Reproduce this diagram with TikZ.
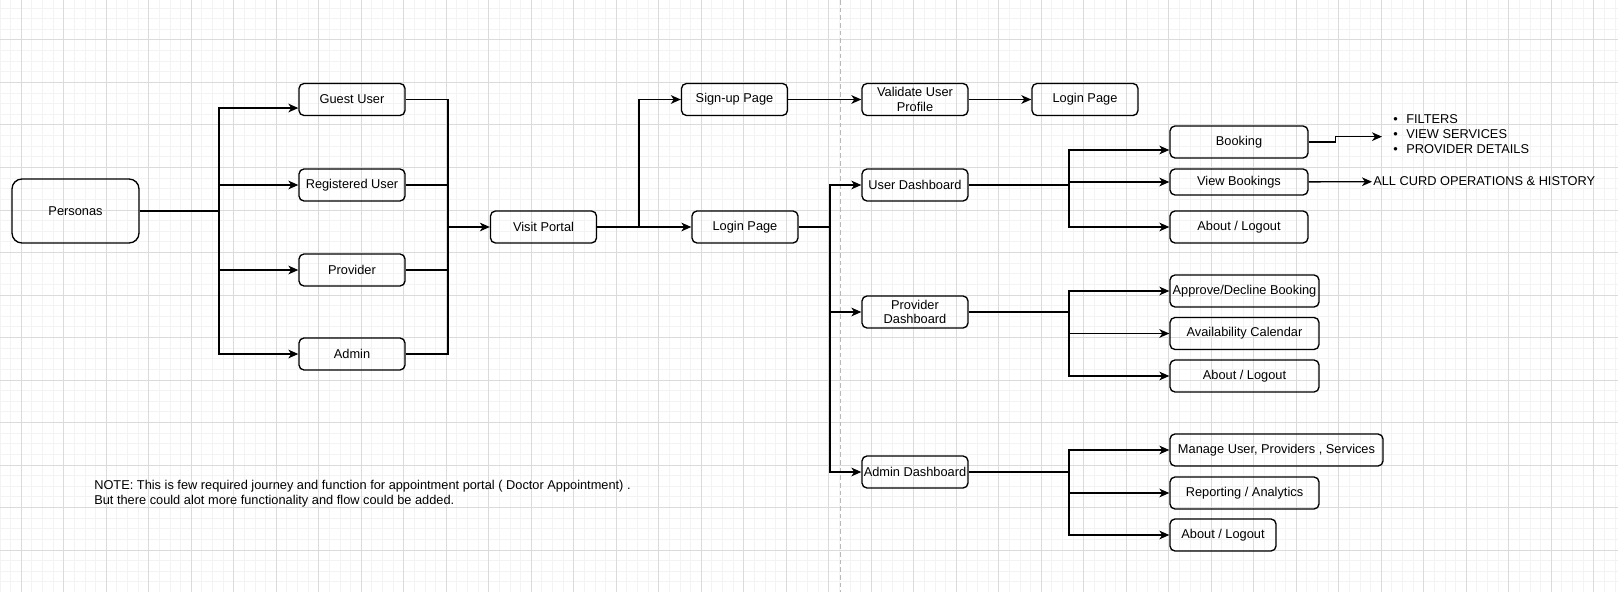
\documentclass[tikz,border=0pt]{standalone}
\usepackage{fontspec}
\setmainfont{Liberation Sans}
\usepackage{tikz}
\usetikzlibrary{arrows.meta, positioning}
\definecolor{gridminor}{RGB}{243,243,243}
\definecolor{gridmajor}{RGB}{219,219,219}
\definecolor{pagebreak}{RGB}{185,185,185}
\tikzstyle{page} = [rectangle, rounded corners=3.75pt, minimum width=79.5pt, minimum height=24pt, inner sep=1pt, text centered, align=center, draw=black, line width=1pt, font=\fontsize{9.6}{10.8}\selectfont]
\tikzstyle{menu} = [page, minimum width=103.5pt]
\tikzstyle{action} = [page, minimum width=111.75pt]
\tikzstyle{plain} = [inner sep=0pt, align=left, font=\fontsize{9.6}{11.4}\selectfont]
\tikzstyle{arrow} = [line width=1pt, -{Stealth[length=7.5pt, width=6.5pt, inset=2.2pt]}]
\tikzstyle{link} = [line width=1pt]

\begin{document}
\begin{tikzpicture}[x=0.75pt, y=-0.75pt]
	\useasboundingbox (0,0) rectangle (1618,592);
	% background grid
	\fill[white] (0,0) rectangle (1618,592);
	\foreach \i in {0,...,152} \draw[gridminor, line width=0.75pt] (\i*10.625,0) -- (\i*10.625,592);
	\foreach \j in {0,...,54} \draw[gridminor, line width=0.75pt] (0,8.125+\j*10.625) -- (1618,8.125+\j*10.625);
	\foreach \i in {0,...,37} \draw[gridmajor, line width=0.75pt] (21.25+\i*42.5,0) -- (21.25+\i*42.5,592);
	\foreach \j in {0,...,12} \draw[gridmajor, line width=0.75pt] (0,40+\j*42.5) -- (1618,40+\j*42.5);
	\draw[pagebreak, line width=0.75pt, dash pattern=on 3.5pt off 2.25pt] (840,0) -- (840,592);

	% personas
	\node (personas) [page, rounded corners=7.5pt, minimum width=95.25pt, minimum height=48pt] at (75.5,211) {Personas};
	\node (guest) [page] at (352,99.5) {Guest User};
	\node (registered) [page] at (352,185) {Registered User};
	\node (provider) [page] at (352,270) {Provider};
	\node (admin) [page] at (352,354) {Admin};

	% portal
	\node (visit) [page] at (543.5,227) {Visit Portal};
	\node (signup) [page] at (734.5,99.5) {Sign-up Page};
	\node (login) [page] at (745,227) {Login Page};
	\node (validate) [page] at (915,99.5) {Validate User\\Profile};
	\node (relogin) [page] at (1085,99.5) {Login Page};

	% dashboards
	\node (userdash) [page] at (915,185) {User Dashboard};
	\node (provdash) [page] at (915,312) {Provider\\Dashboard};
	\node (admindash) [page] at (915,472) {Admin Dashboard};

	\node (booking) [menu] at (1239,142) {Booking};
	\node (viewbook) [menu, minimum height=19.5pt] at (1239,182) {View Bookings};
	\node (userabout) [menu] at (1239,227) {About / Logout};
	\node (features) [plain, anchor=west, inner xsep=8.25pt] at (1382,134) {\textbullet\hspace{6.4pt}FILTERS\\\textbullet\hspace{6.4pt}VIEW SERVICES\\\textbullet\hspace{6.4pt}PROVIDER DETAILS};
	\node (curd) [plain, anchor=west, inner xsep=0.75pt] at (1372,181.5) {ALL CURD OPERATIONS \& HISTORY};

	\node (approve) [action] at (1244.5,291) {Approve/Decline Booking};
	\node (calendar) [action] at (1244.5,333.5) {Availability Calendar};
	\node (provabout) [action] at (1244.5,376) {About / Logout};

	\node (manage) [page, minimum width=159.75pt] at (1276.5,450) {Manage User, Providers , Services};
	\node (report) [action] at (1244.5,493) {Reporting / Analytics};
	\node (adminabout) [page] at (1223,535) {About / Logout};

	\node (note) [plain, anchor=west, font=\fontsize{9.6}{11.25}\selectfont] at (94,493.5) {NOTE: This is few required journey and function for appointment portal ( Doctor Appointment) .\\But there could alot more functionality and flow could be added.};

	% junctions
	\coordinate (split) at (219,211);
	\coordinate (merge) at (448,227);
	\coordinate (fork) at (639,227);
	\coordinate (dash) at (830,227);
	\coordinate (userbus) at (1069,185);
	\coordinate (provbus) at (1069,312);
	\coordinate (adminbus) at (1069,472);

	\draw [link] (personas) -- (split);
	\draw [arrow] (split) |- ([yshift=-6.4pt]guest.west);
	\draw [arrow] (split) |- (registered);
	\draw [arrow] (split) |- (provider);
	\draw [arrow] (split) |- (admin);

	\draw [link] (guest) -| (merge);
	\draw [link] (registered) -| (merge);
	\draw [link] (provider) -| (merge);
	\draw [link] (admin) -| (merge);
	\draw [arrow] (merge) -- (visit);

	\draw [arrow] (visit) -- (login);
	\draw [arrow] (fork) |- (signup);
	\draw [arrow] (signup) -- (validate);
	\draw [arrow] (validate) -- (relogin);

	\draw [link] (login) -- (dash);
	\draw [arrow] (dash) |- (userdash);
	\draw [arrow] (dash) |- (provdash);
	\draw [arrow] (dash) |- (admindash);

	\draw [link] (userdash) -- (userbus);
	\draw [arrow] (userbus) |- ([yshift=-6pt]booking.west);
	\draw [arrow] (userbus) |- (viewbook);
	\draw [arrow] (userbus) |- (userabout);
	\draw [arrow] (booking.east) -- ++(27,0) |- ([yshift=-2pt]features.west);
	\draw [arrow] (viewbook) -- (curd);

	\draw [link] (provdash) -- (provbus);
	\draw [arrow] (provbus) |- (approve);
	\draw [arrow] (provbus) |- (calendar);
	\draw [arrow] (provbus) |- (provabout);

	\draw [link] (admindash) -- (adminbus);
	\draw [arrow] (adminbus) |- (manage);
	\draw [arrow] (adminbus) |- (report);
	\draw [arrow] (adminbus) |- (adminabout);
\end{tikzpicture}
\end{document}
